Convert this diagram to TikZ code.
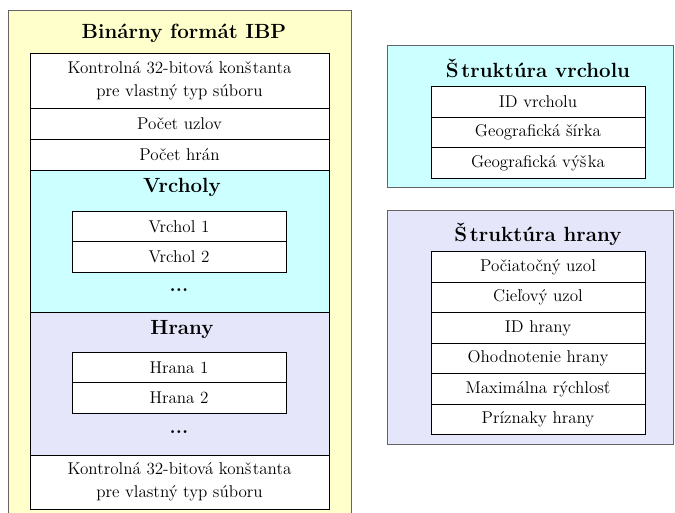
\documentclass[tikz,border=0pt]{standalone}
\definecolor{ibpyellow}{RGB}{255,255,204}
\definecolor{vrcholcyan}{RGB}{204,255,255}
\definecolor{hranalav}{RGB}{230,230,250}
\definecolor{framegray}{RGB}{100,100,100}

\tikzset{every picture/.style={line width=0.75pt},
  outerbox/.style={draw=framegray, inner sep=0pt, anchor=north west},
  regionbox/.style={draw=black, inner sep=0pt, minimum width=224.25pt},
  rowbox/.style={draw=black, fill=white, inner sep=0pt, align=center,
    font=\fontsize{12.8}{17.25}\selectfont},
  titletext/.style={inner sep=0.75pt, font=\fontsize{15.4}{17}\selectfont\bfseries},
  dotstext/.style={inner sep=0.75pt, font=\fontsize{14.8}{17}\selectfont\bfseries}}

\begin{document}
\begin{tikzpicture}[x=0.75pt,y=0.75pt,yscale=-1,xscale=1]
\useasboundingbox (0,0) rectangle (675,512);

% Binary format frame
\node (ibp) [outerbox, fill=ibpyellow, minimum width=257.25pt, minimum height=378pt] at (8,10) {};
\node (ibptitle) [titletext] at (184,33) {Binárny formát IBP};
% Header rows
\node (konst1) [rowbox, minimum width=224.25pt, minimum height=41.25pt] at (179.5,80.5) {Kontrolná 32-bitová konš\kern1pt tanta\\pre vlastný typ súboru};
\node (pocuzl) [rowbox, minimum width=224.25pt, minimum height=23.25pt] at (179.5,123.5) {Počet uzlov};
\node (pochran) [rowbox, minimum width=224.25pt, minimum height=23.25pt] at (179.5,154.5) {Počet hrán};
% Vertices region
\node (vrcholy) [regionbox, fill=vrcholcyan, minimum height=106.5pt] at (179.5,241) {};
\node (vrcholytitle) [titletext] at (182,187) {Vrcholy};
\node (vrchol1) [rowbox, minimum width=160.5pt, minimum height=22.9pt] at (179,226.5) {Vrchol 1};
\node (vrchol2) [rowbox, minimum width=160.5pt, minimum height=22.9pt] at (179,257) {Vrchol 2};
\node (vrcholdots) [dotstext] at (179,290) {...};
% Edges region
\node (hrany) [regionbox, fill=hranalav, minimum height=107.25pt] at (179.5,383.5) {};
\node (hranytitle) [titletext] at (182,329) {Hrany};
\node (hrana1) [rowbox, minimum width=160.5pt, minimum height=22.9pt] at (179,368) {Hrana 1};
\node (hrana2) [rowbox, minimum width=160.5pt, minimum height=22.9pt] at (179,398) {Hrana 2};
\node (hranadots) [dotstext] at (179,432) {...};
% Footer row
\node (konst2) [rowbox, minimum width=224.25pt, minimum height=40.5pt] at (179.5,482) {Kontrolná 32-bitová konš\kern1pt tanta\\pre vlastný typ súboru};

% Vertex structure
\node (strvrchol) [outerbox, fill=vrcholcyan, minimum width=214.5pt, minimum height=106.5pt] at (387,45) {};
\node (strvrcholtitle) [titletext] at (538,68) {Š\kern2pt truktúra vrcholu};
\node (idvrchol) [rowbox, minimum width=160.5pt, minimum height=22.9pt] at (538,102) {ID vrcholu};
\node (sirka) [rowbox, minimum width=160.5pt, minimum height=22.9pt] at (538,132.5) {Geografická šírka};
\node (vyska) [rowbox, minimum width=160.5pt, minimum height=22.9pt] at (538,163) {Geografická výš\kern1pt ka};

% Edge structure
\node (strhrana) [outerbox, fill=hranalav, minimum width=214.5pt, minimum height=175.5pt] at (387,210) {};
\node (strhranatitle) [titletext] at (538,234) {Š\kern2pt truktúra hrany};
\node (pocuzol) [rowbox, minimum width=160.5pt, minimum height=22.9pt] at (538,267) {Počiatočný uzol};
\node (cieluzol) [rowbox, minimum width=160.5pt, minimum height=22.9pt] at (538,297.5) {Cieľový uzol};
\node (idhrana) [rowbox, minimum width=160.5pt, minimum height=22.9pt] at (538,328) {ID hrany};
\node (ohodnot) [rowbox, minimum width=160.5pt, minimum height=22.9pt] at (538,358.5) {Ohodnotenie hrany};
\node (rychlost) [rowbox, minimum width=160.5pt, minimum height=22.9pt] at (538,389) {Maximálna rýchlosť};
\node (priznaky) [rowbox, minimum width=160.5pt, minimum height=22.9pt] at (538,419.5) {Príznaky hrany};

\end{tikzpicture}
\end{document}
